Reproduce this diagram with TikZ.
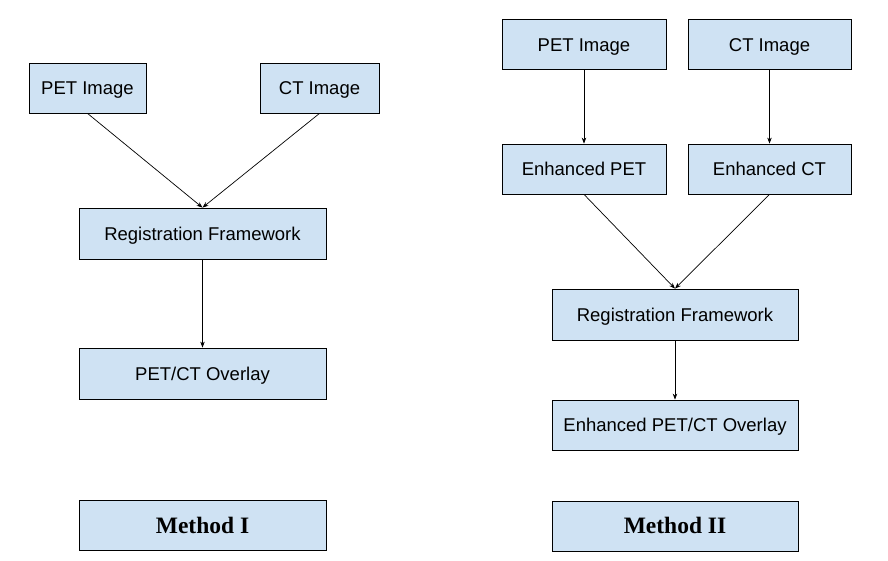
\documentclass[tikz,border=0pt]{standalone}
\usepackage{fontspec}
\setmainfont{Liberation Sans}
\newfontfamily\methodfont{Liberation Serif}
\usepackage{xcolor}
\usetikzlibrary{arrows.meta}
\definecolor{boxblue}{HTML}{CFE2F3}

\begin{document}
\begin{tikzpicture}[
      x=1pt, y=-1pt,
      box/.style={rectangle, draw=black, fill=boxblue, line width=0.8pt, inner sep=0pt,
                  minimum height=50pt, text height=13.3pt, text depth=0pt,
                  font=\fontsize{18.5}{22}\selectfont},
      method/.style={box, minimum width=247pt, text height=15.7pt,
                     font=\methodfont\bfseries\fontsize{23.5}{26}\selectfont},
      link/.style={-{Stealth[length=6pt, width=4.5pt]}, line width=0.7pt}
    ]
    \useasboundingbox (0,0) rectangle (888,560);
    % Method I
    \node[box, minimum width=117pt] (pet1) at (87.5,88) {PET Image};
    \node[box, minimum width=119pt] (ct1) at (319.5,88) {CT Image};
    \node[box, minimum width=247pt, minimum height=51pt] (reg1) at (202.5,233.5) {Registration Framework};
    \node[box, minimum width=247pt, minimum height=51pt] (ov1) at (202.5,373.5) {PET/CT Overlay};
    \node[method] (m1) at (202.5,525.5) {Method I};
    \draw[link] (pet1.south) -- (reg1.north);
    \draw[link] (ct1.south) -- (reg1.north);
    \draw[link] (reg1) -- (ov1);
    % Method II
    \node[box, minimum width=164pt] (pet2) at (584,44.5) {PET Image};
    \node[box, minimum width=163pt] (ct2) at (769.5,44.5) {CT Image};
    \node[box, minimum width=164pt] (epet) at (584,169) {Enhanced PET};
    \node[box, minimum width=163pt] (ect) at (769.5,169) {Enhanced CT};
    \node[box, minimum width=246pt, minimum height=51pt] (reg2) at (675,314.5) {Registration Framework};
    \node[box, minimum width=246pt] (ov2) at (675,425) {Enhanced PET/CT Overlay};
    \node[method, minimum width=246pt] (m2) at (675,526) {Method II};
    \draw[link] (pet2) -- (epet);
    \draw[link] (ct2) -- (ect);
    \draw[link] (epet.south) -- (reg2.north);
    \draw[link] (ect.south) -- (reg2.north);
    \draw[link] (reg2) -- (ov2);
\end{tikzpicture}
\end{document}
